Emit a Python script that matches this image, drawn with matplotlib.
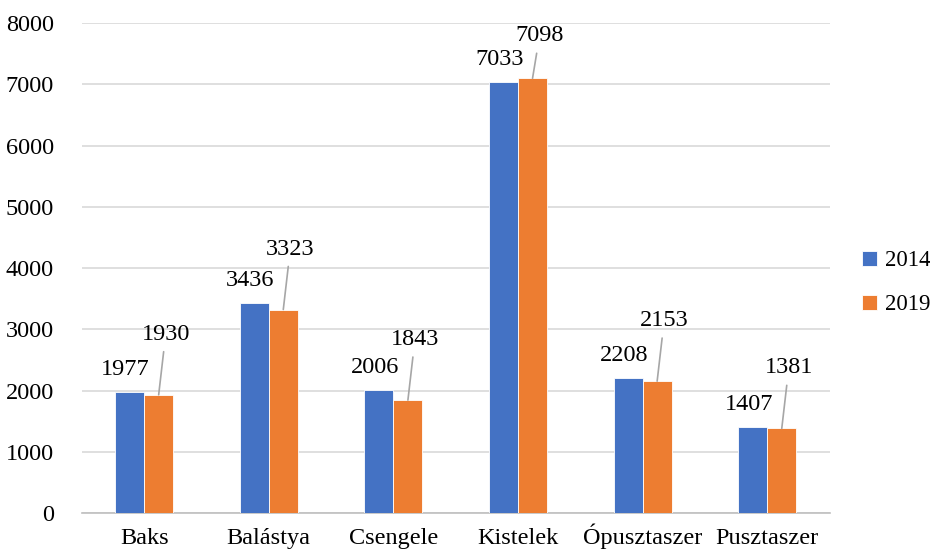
#!/usr/bin/env python3
"""Grouped bar chart: 2014 vs 2019 per settlement."""

import matplotlib.pyplot as plt
import numpy as np

CATEGORIES = ["Baks", "Balástya", "Csengele", "Kistelek", "Ópusztaszer", "Pusztaszer"]
YEARS = ["2014", "2019"]
VALUES_2014 = [1977, 3436, 2006, 7033, 2208, 1407]
VALUES_2019 = [1930, 3323, 1843, 7098, 2153, 1381]

BLUE = "#4472C4"
ORANGE = "#ED7D31"
FS = 17.5


def main() -> None:
    plt.rcParams["font.family"] = ["Liberation Serif", "DejaVu Serif"]
    fig = plt.figure(figsize=(9.3, 5.51), dpi=100)
    ax = fig.add_axes([0.088, 0.069, 0.804, 0.889])

    x = np.arange(len(CATEGORIES))
    width = 0.233
    bars1 = ax.bar(x - width / 2, VALUES_2014, width, color=BLUE, label=YEARS[0],
                   edgecolor="white", linewidth=0.6, zorder=3)
    bars2 = ax.bar(x + width / 2, VALUES_2019, width, color=ORANGE, label=YEARS[1],
                   edgecolor="white", linewidth=0.6, zorder=3)

    for rect, value in zip(bars1, VALUES_2014):
        ax.annotate(str(value), (rect.get_x() + rect.get_width() / 2, value),
                    xytext=(-4, 12), textcoords="offset pixels",
                    ha="center", va="bottom", fontsize=FS, zorder=4)

    for rect, value in zip(bars2, VALUES_2019):
        dy = 32 if value > 6000 else 50
        ax.annotate(str(value), (rect.get_x() + rect.get_width() / 2, value),
                    xytext=(7, dy), textcoords="offset pixels",
                    ha="center", va="bottom", fontsize=FS, zorder=4,
                    arrowprops=dict(arrowstyle="-", color="#a6a6a6", lw=1.2,
                                    shrinkA=3, shrinkB=0))

    ax.set_xlim(-0.5, len(CATEGORIES) - 0.5)
    ax.set_ylim(0, 8000)
    ax.set_yticks(range(0, 8001, 1000))
    ax.set_xticks(x)
    ax.set_xticklabels(CATEGORIES, va="baseline")
    ax.tick_params(axis="both", length=0, labelsize=FS)
    ax.tick_params(axis="x", pad=22)
    ax.tick_params(axis="y", pad=20)

    ax.grid(axis="y", color="#d9d9d9", linewidth=1.2, zorder=0)
    for side in ("top", "right", "left"):
        ax.spines[side].set_visible(False)
    ax.spines["bottom"].set_color("#bfbfbf")
    ax.spines["bottom"].set_linewidth(1.2)

    ax.legend(loc="center left", bbox_to_anchor=(1.016, 0.47), frameon=False,
              fontsize=FS - 1, handlelength=0.65, handleheight=0.65,
              handletextpad=0.35, labelspacing=1.0)

    fig.savefig("out.png", dpi=100)


if __name__ == "__main__":
    main()
